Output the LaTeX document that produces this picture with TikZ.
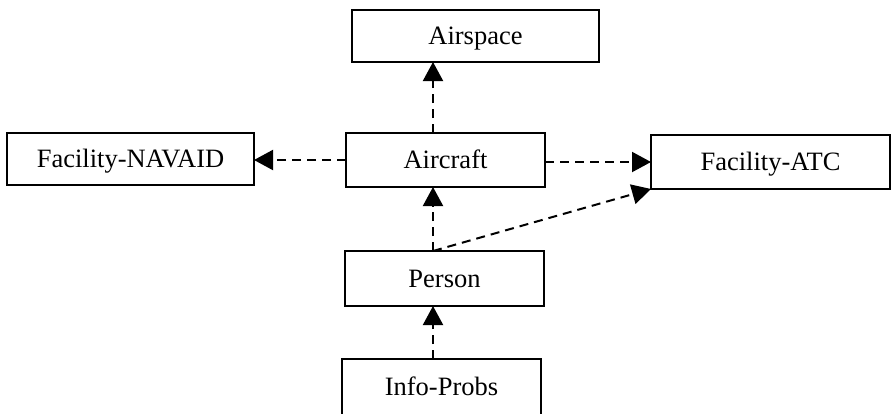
\documentclass[tikz,border=0pt]{standalone}
\usepackage{fontspec}
\setmainfont{Liberation Serif}
\usetikzlibrary{arrows.meta}
\begin{document}
\begin{tikzpicture}[x=1pt,y=-1pt,
  box/.style={draw=black,line width=2pt,inner sep=0pt,outer sep=0pt,
    text height=17pt,text depth=0pt,
    font=\fontsize{26.5}{30}\selectfont},
  arr/.style={line width=2pt,dash pattern=on 9pt off 6pt,
    -{Triangle[length=19pt,width=20pt]}}]
\useasboundingbox (0,0) rectangle (891,413);
\clip (0,0) rectangle (891,413);
\node[box,minimum width=247pt,minimum height=52.5pt] (airspace) at (475.5,35.75) {Airspace};
\node[box,minimum width=199pt,minimum height=54pt] (aircraft) at (445.5,160) {Aircraft};
\node[box,minimum width=247pt,minimum height=52pt] (navaid) at (130.5,159) {Facility-NAVAID};
\node[box,minimum width=239pt,minimum height=54pt] (atc) at (770.5,162) {Facility-ATC};
\node[box,minimum width=199pt,minimum height=55pt] (person) at (444.5,278.5) {Person};
\node[box,minimum width=199pt,minimum height=56pt] (info) at (441.5,387) {Info-Probs};
\coordinate (ax) at (433,0);
\draw[arr] (aircraft.north -| ax) -- (airspace.south -| ax);
\draw[arr] (aircraft.west) -- (navaid.east |- aircraft.west);
\draw[arr] (aircraft.east |- atc.west) -- (atc.west);
\draw[arr] (person.north -| ax) -- (aircraft.south -| ax);
\draw[arr] (person.north -| ax) -- (atc.south west);
\draw[arr] (info.north -| ax) -- (person.south -| ax);
\end{tikzpicture}
\end{document}
